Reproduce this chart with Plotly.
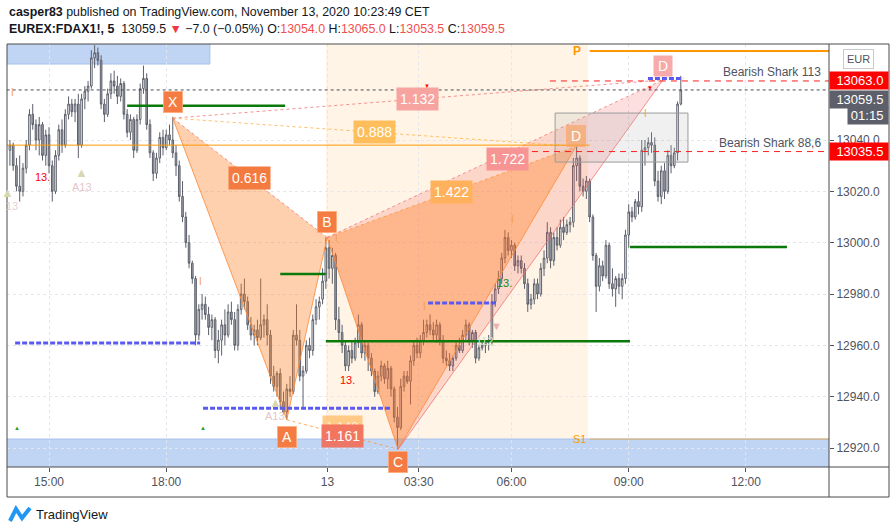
import plotly.graph_objects as go

# ---------------- data ----------------
bar_open = [
    13036, 13038, 13030, 13022, 13020, 13029, 13038, 13050, 13046, 13040,
    13046, 13034, 13042, 13030, 13020, 13034, 13044, 13038, 13050, 13054,
    13051, 13054, 13038, 13056, 13059, 13061, 13072, 13074, 13071, 13054,
    13050, 13058, 13063, 13061, 13057, 13062, 13050, 13043, 13048, 13036,
    13048, 13060, 13064, 13046, 13035, 13027, 13033, 13041, 13037, 13042,
    13040, 13035, 13030, 13018, 13010, 13000, 12992, 12986, 12964, 12974,
    12976, 12972, 12967, 12970, 12958, 12962, 12968, 12964, 12973, 12970,
    12960, 12974, 12980, 12977, 12968, 12964, 12966, 12963, 12968, 12970,
    12964, 12948, 12944, 12949, 12938, 12934, 12943, 12942, 12964, 12962,
    12948, 12950, 12960, 12958, 12970, 12975, 12978, 12985, 12998, 12990,
    12995, 12970, 12965, 12960, 12952, 12958, 12955, 12961, 12968, 12957,
    12960, 12955, 12950, 12942, 12948, 12952, 12947, 12951, 12943, 12932,
    12928, 12944, 12948, 12946, 12954, 12960, 12957, 12962, 12965, 12968,
    12966, 12964, 12968, 12962, 12955, 12954, 12952, 12955, 12960, 12958,
    12964, 12968, 12962, 12965, 12955, 12959, 12960, 12961, 12962, 12977,
    12982, 12986, 12994, 13002, 12997, 12999, 12991, 12993, 12990, 12984,
    12976, 12978, 12984, 12980, 12990, 12994, 13004, 12993, 13002, 12999,
    13006, 13004, 13007, 13008, 13030, 13033, 13022, 13020, 13024, 13010,
    12995, 12983, 12991, 12987, 12999, 12984, 12982, 12986, 12983, 12986,
    13003, 13012, 13010, 13016, 13014, 13036, 13037, 13039, 13038, 13024,
    13018, 13028, 13020, 13034, 13030, 13035, 13054,
]
bar_high = [
    13040, 13039, 13033, 13034, 13031, 13040, 13052, 13054, 13048, 13049,
    13047, 13044, 13045, 13032, 13036, 13046, 13048, 13052, 13057, 13056,
    13056, 13058, 13058, 13061, 13063, 13075, 13077, 13076, 13073, 13056,
    13060, 13066, 13067, 13065, 13064, 13063, 13052, 13050, 13049, 13050,
    13062, 13069, 13066, 13048, 13036, 13035, 13043, 13044, 13044, 13046,
    13049, 13038, 13032, 13024, 13012, 13003, 12993, 12987, 12976, 12980,
    12979, 12975, 12972, 12971, 12966, 12970, 12974, 12976, 12977, 12973,
    12976, 12984, 12986, 12979, 12971, 12968, 12970, 12986, 12972, 12976,
    12966, 12952, 12950, 12951, 12942, 12945, 12948, 12966, 12976, 12966,
    12952, 12962, 12963, 12972, 12978, 12979, 12990, 13002, 13001, 12998,
    12996, 12975, 12968, 12962, 12960, 12962, 12963, 12972, 12969, 12962,
    12961, 12957, 12951, 12950, 12954, 12953, 12954, 12952, 12944, 12936,
    12947, 12950, 12950, 12956, 12962, 12963, 12964, 12970, 12970, 12972,
    12969, 12970, 12969, 12964, 12958, 12957, 12956, 12962, 12963, 12966,
    12970, 12969, 12966, 12966, 12960, 12962, 12962, 12964, 12980, 12984,
    12989, 12996, 13005, 13004, 13001, 13000, 12995, 12995, 12992, 12986,
    12980, 12986, 12986, 12992, 12997, 13008, 13006, 13004, 13006, 13009,
    13010, 13009, 13010, 13033, 13038, 13034, 13025, 13026, 13025, 13011,
    12996, 12994, 12993, 13001, 13000, 12990, 12987, 12988, 12988, 13005,
    13015, 13014, 13017, 13020, 13040, 13040, 13041, 13043, 13041, 13028,
    13030, 13031, 13036, 13038, 13037, 13055, 13065,
]
bar_low = [
    13030, 13028, 13020, 13016, 13018, 13027, 13036, 13044, 13036, 13034,
    13032, 13030, 13027, 13016, 13019, 13032, 13035, 13037, 13048, 13049,
    13047, 13033, 13037, 13052, 13055, 13060, 13068, 13069, 13052, 13047,
    13049, 13056, 13058, 13054, 13055, 13048, 13041, 13040, 13033, 13035,
    13046, 13058, 13044, 13033, 13024, 13025, 13031, 13034, 13036, 13038,
    13033, 13026, 13016, 13008, 12998, 12990, 12984, 12960, 12962, 12970,
    12970, 12964, 12962, 12955, 12953, 12956, 12960, 12963, 12968, 12958,
    12958, 12972, 12974, 12966, 12962, 12960, 12960, 12962, 12963, 12960,
    12945, 12942, 12940, 12935, 12933, 12931, 12940, 12941, 12960, 12946,
    12935, 12949, 12955, 12956, 12968, 12970, 12976, 12982, 12986, 12984,
    12966, 12962, 12957, 12950, 12950, 12953, 12954, 12959, 12955, 12954,
    12950, 12948, 12940, 12941, 12946, 12945, 12943, 12940, 12930, 12919.5,
    12927, 12942, 12945, 12937, 12952, 12955, 12955, 12960, 12963, 12964,
    12962, 12961, 12960, 12953, 12952, 12950, 12950, 12954, 12957, 12957,
    12962, 12960, 12959, 12953, 12954, 12958, 12957, 12958, 12960, 12975,
    12980, 12984, 12992, 12995, 12994, 12989, 12988, 12988, 12982, 12973,
    12974, 12976, 12978, 12979, 12987, 12992, 12990, 12991, 12997, 12998,
    13001, 13003, 13004, 13006, 13024, 13020, 13018, 13017, 13008, 12993,
    12973, 12981, 12985, 12986, 12982, 12979, 12975, 12980, 12978, 12984,
    12998, 13008, 13009, 13011, 13012, 13030, 13034, 13035, 13022, 13016,
    13015, 13017, 13019, 13027, 13029, 13032, 13053.5,
]
bar_close = [
    13038, 13030, 13022, 13020, 13029, 13038, 13050, 13046, 13040, 13046,
    13034, 13042, 13030, 13020, 13034, 13044, 13038, 13050, 13054, 13051,
    13054, 13038, 13056, 13059, 13061, 13072, 13074, 13071, 13054, 13050,
    13058, 13063, 13061, 13057, 13062, 13050, 13043, 13048, 13036, 13048,
    13060, 13064, 13046, 13035, 13027, 13033, 13041, 13037, 13042, 13040,
    13035, 13030, 13018, 13010, 13000, 12992, 12986, 12964, 12974, 12976,
    12972, 12967, 12970, 12958, 12962, 12968, 12964, 12973, 12970, 12960,
    12974, 12980, 12977, 12968, 12964, 12966, 12963, 12968, 12970, 12964,
    12948, 12944, 12949, 12938, 12934, 12943, 12942, 12964, 12962, 12948,
    12950, 12960, 12958, 12970, 12975, 12977, 12985, 12998, 12990, 12995,
    12970, 12965, 12960, 12952, 12958, 12955, 12961, 12968, 12957, 12960,
    12955, 12950, 12942, 12948, 12952, 12947, 12951, 12943, 12932, 12928,
    12944, 12948, 12946, 12954, 12960, 12957, 12962, 12965, 12968, 12966,
    12964, 12968, 12962, 12955, 12954, 12952, 12955, 12960, 12958, 12964,
    12968, 12962, 12965, 12955, 12959, 12960, 12961, 12962, 12977, 12982,
    12986, 12994, 13002, 12997, 12999, 12991, 12993, 12990, 12984, 12976,
    12978, 12984, 12980, 12990, 12994, 13004, 12993, 13002, 12999, 13006,
    13004, 13007, 13008, 13030, 13033, 13022, 13020, 13024, 13010, 12995,
    12983, 12991, 12987, 12999, 12984, 12982, 12986, 12983, 12986, 13003,
    13012, 13010, 13016, 13014, 13036, 13037, 13039, 13038, 13024, 13018,
    13028, 13020, 13034, 13030, 13035, 13054, 13059.5,
]
bar_idx = list(range(len(bar_close)))

tick_pos = [12, 48, 97.5, 125.5, 154, 190, 226]
tick_text = ["15:00", "18:00", "13", "03:30", "06:00", "09:00", "12:00"]
price_ticks = [12920, 12940, 12960, 12980, 13000, 13020, 13040]
x_range = [-0.9, 251.5]
y_range = [12912.6, 13077.4]

# harmonic patterns (X A B C D and the second D)
pat_names = ["X", "A", "B", "C", "D"]
pat_idx = [50, 85, 97.4, 119.2, 173.8]
pat_price = [13048.5, 12931, 13002, 12919.5, 13037.5]
d2_idx = 200.5
d2_price = 13063.4

# level lines
green_start = [36, 83, 97, 190.4]
green_end = [84.5, 97, 190.4, 238.6]
green_level = [13053.3, 12987.8, 12961.6, 12998.3]

blue_start = [1.6, 59.3, 128.4, 195.9]
blue_end = [58.4, 116.7, 149.2, 206.7]
blue_level = [12960.9, 12935.5, 12976.5, 13064]

shark_levels = [13063.0, 13035.5]
shark_start = [165.8, 160.3]
shark_text = ["Bearish Shark 113", "Bearish Shark 88,6"]
last_price = 13059.5
orange_level = 13038
pivot_p = 13074.7
pivot_s1 = 12923.5
band_start, band_end = 97.05, 177.5
box_x = [167.4, 208.2]
box_y = [13031.4, 13050.5]
top_zone = [-5, 61.4, 13069.6, 13100]
bottom_zone = [-5, 260, 12900, 12923.5]

# indicator marks
i_idx = [0.9, 58.4, 100.4, 127.4, 154.2, 195.3]
i_price = [13058.7, 12985, 13001.8, 12975.3, 13009.2, 13050.5]
red13_idx = [9.9, 103.5]
red13_price = [13025.6, 12946.4]
green13_idx = [152]
green13_price = [12984.3]
a13_idx = [22, 81.4]
a13_price = [13021.7, 12932.4]
tri_idx = [22, 81.4, -0.6]
tri_price = [13027.5, 12937.8, 13019.7]
gtri_idx = [2.2, 59.3]
gtri_price = [12927.7, 12927.7]
rtri_idx = [128, 196.5]
rtri_price = [13061.2, 13060.3]


def px_x(px):
    return (px - 7) / 822.0


def px_y(py):
    return (467 - py) / 423.0


FONT = "Liberation Sans"
fig = go.Figure()

fig.add_trace(go.Candlestick(
    x=bar_idx, open=bar_open, high=bar_high, low=bar_low, close=bar_close,
    increasing=dict(line=dict(color="#5d606b", width=1), fillcolor="#ffffff"),
    decreasing=dict(line=dict(color="#5d606b", width=1), fillcolor="#a3a6af"),
    whiskerwidth=0, showlegend=False, hoverinfo="skip"))

X, A, B, C, D = [(pat_idx[k], pat_price[k]) for k in range(5)]
D2 = (d2_idx, d2_price)


def poly(pts, fill, name):
    fig.add_trace(go.Scatter(
        x=[p[0] for p in pts] + [pts[0][0]], y=[p[1] for p in pts] + [pts[0][1]],
        mode="lines", fill="toself", fillcolor=fill, line=dict(width=0),
        hoverinfo="skip", showlegend=False, name=name))


def seg(p, q, color, dash="solid", width=1):
    fig.add_trace(go.Scatter(x=[p[0], q[0]], y=[p[1], q[1]], mode="lines",
                             line=dict(color=color, width=width, dash=dash),
                             hoverinfo="skip", showlegend=False))


poly([B, C, D2], "rgba(242,80,80,0.18)", "pink")
poly([X, A, B], "rgba(255,125,30,0.36)", "xab")
poly([B, C, D], "rgba(255,125,30,0.36)", "bcd")

ORG = "rgba(255,140,60,0.85)"
PNK = "rgba(242,110,110,0.75)"
seg(X, A, ORG)
seg(A, B, ORG)
seg(B, C, ORG)
seg(C, D, ORG)
seg(C, D2, PNK)
seg(X, B, PNK, "dot")
seg(B, D, "rgba(255,150,60,0.8)", "dot")
seg(B, D2, PNK, "dot")
seg(X, D, "rgba(255,175,70,0.8)", "dot")
seg(X, D2, PNK, "dot")
seg(A, C, "rgba(255,150,60,0.8)", "dot")

shapes = []
# background zones
shapes.append(dict(type="rect", xref="x", yref="y", x0=band_start, x1=band_end,
                   y0=12800, y1=13200, fillcolor="#fff4e6", line=dict(width=0), layer="below"))
shapes.append(dict(type="rect", xref="x", yref="y", x0=top_zone[0], x1=top_zone[1],
                   y0=top_zone[2], y1=top_zone[3], fillcolor="#c0d4f3",
                   line=dict(color="#a7c1ec", width=1), layer="below"))
shapes.append(dict(type="rect", xref="x", yref="y", x0=bottom_zone[0], x1=bottom_zone[1],
                   y0=bottom_zone[2], y1=bottom_zone[3], fillcolor="#c0d4f3",
                   line=dict(color="#a7c1ec", width=1), layer="below"))
shapes.append(dict(type="rect", xref="x", yref="y", x0=box_x[0], x1=box_x[1],
                   y0=box_y[0], y1=box_y[1], fillcolor="rgba(170,170,170,0.18)",
                   line=dict(color="#9b9b9b", width=1), layer="above"))
# horizontal lines
shapes.append(dict(type="line", xref="x", yref="y", x0=-1, x1=178, y0=orange_level,
                   y1=orange_level, line=dict(color="#ff9800", width=1), layer="above"))
shapes.append(dict(type="line", xref="x", yref="y", x0=178, x1=252, y0=pivot_p,
                   y1=pivot_p, line=dict(color="#ff9800", width=2), layer="above"))
shapes.append(dict(type="line", xref="x", yref="y", x0=178, x1=252, y0=pivot_s1,
                   y1=pivot_s1, line=dict(color="rgba(255,152,0,0.6)", width=1), layer="above"))
shapes.append(dict(type="line", xref="x", yref="y", x0=-1, x1=252, y0=last_price,
                   y1=last_price, line=dict(color="#4a4d57", width=1, dash="dot"), layer="above"))
for s0, lv in zip(shark_start, shark_levels):
    shapes.append(dict(type="line", xref="x", yref="y", x0=s0, x1=252, y0=lv, y1=lv,
                       line=dict(color="#ff2020", width=1, dash="6px,5px"), layer="above"))
for s0, s1, lv in zip(green_start, green_end, green_level):
    shapes.append(dict(type="line", xref="x", yref="y", x0=s0, x1=s1, y0=lv, y1=lv,
                       line=dict(color="#0b7a0b", width=2.5), layer="above"))
for s0, s1, lv in zip(blue_start, blue_end, blue_level):
    shapes.append(dict(type="line", xref="x", yref="y", x0=s0, x1=s1, y0=lv, y1=lv,
                       line=dict(color="#5a5af0", width=3, dash="5px,2px"), layer="above"))
# frame
FR = "#4a4a4a"
shapes.append(dict(type="rect", xref="paper", yref="paper", x0=px_x(7), x1=px_x(889),
                   y0=px_y(497), y1=px_y(44), line=dict(color=FR, width=1), layer="above"))
shapes.append(dict(type="line", xref="paper", yref="paper", x0=1, x1=1,
                   y0=px_y(497), y1=px_y(44), line=dict(color=FR, width=1), layer="above"))
shapes.append(dict(type="line", xref="paper", yref="paper", x0=px_x(7), x1=px_x(889),
                   y0=0, y1=0, line=dict(color=FR, width=1), layer="above"))
# TradingView logo
shapes.append(dict(type="path", xref="paper", yref="paper",
                   path="M {} {} L {} {} L {} {} L {} {}".format(
                       px_x(10), px_y(521), px_x(16), px_y(509),
                       px_x(22), px_y(518), px_x(30), px_y(508)),
                   line=dict(color="#2196f3", width=4), layer="above"))

ann = []
# header
ann.append(dict(xref="paper", yref="paper", x=px_x(7), y=px_y(12), xanchor="left",
                yanchor="middle", showarrow=False,
                text="<b>casper83</b> published on TradingView.com, November 13, 2020 10:23:49 CET",
                font=dict(family=FONT, size=12.4, color="#131722")))
RED = "#f05050"
hdr2 = ("<b>EUREX:FDAX1!, 5</b>  13059.5 <span style='color:#f23645'>▼</span> "
        "−7.0 (−0.05" + "%" + ") O:<span style='color:" + RED + "'>13054.0</span> "
        "H:<span style='color:" + RED + "'>13065.0</span> L:<span style='color:" + RED +
        "'>13053.5</span> C:<span style='color:" + RED + "'>13059.5</span>")
ann.append(dict(xref="paper", yref="paper", x=px_x(7), y=px_y(29), xanchor="left",
                yanchor="middle", showarrow=False, text=hdr2,
                font=dict(family=FONT, size=12.4, color="#131722")))
ann.append(dict(xref="paper", yref="paper", x=px_x(34), y=px_y(514), xanchor="left",
                yanchor="middle", showarrow=False, text="TradingView",
                font=dict(family=FONT, size=13, color="#131722")))
ann.append(dict(xref="paper", yref="paper", x=px_x(858), y=px_y(59), xanchor="center",
                yanchor="middle", showarrow=False, text="EUR", bordercolor="#c8cad0",
                borderwidth=1, borderpad=3, bgcolor="#ffffff",
                font=dict(family=FONT, size=11, color="#50535e")))


# right axis tags
def tag(price, text, bg, yshift=0, width=56):
    ann.append(dict(xref="paper", yref="y", x=px_x(889), y=price, xanchor="right",
                    yanchor="middle", yshift=yshift, showarrow=False, text=text,
                    bgcolor=bg, width=width, height=15, borderpad=1, align="right",
                    font=dict(family=FONT, size=13, color="#ffffff")))


tag(shark_levels[1], "13035.5 ", "#ff0000")
tag(last_price, "13059.5 ", "#5d606b", yshift=-10)
tag(last_price, "01:15 ", "#5d606b", yshift=-26, width=38)
tag(shark_levels[0], "13063.0 ", "#ff0000")

for lv, txt in zip(shark_levels, shark_text):
    ann.append(dict(xref="paper", yref="y", x=px_x(823), y=lv, xanchor="right",
                    yanchor="middle", yshift=9, showarrow=False, text=txt,
                    font=dict(family=FONT, size=12, color="#50535e")))

ann.append(dict(x=174, y=pivot_p, text="<b>P</b>", showarrow=False,
                font=dict(family=FONT, size=12, color="#ff9800")))
ann.append(dict(x=175, y=pivot_s1, text="S1", showarrow=False,
                font=dict(family=FONT, size=11, color="#ff9800")))

# pattern point labels
point_shift = [16, -17, 16, -13, 10]
point_bg = ["#f47b42", "#f47b42", "#f47b42", "#f47b42", "rgba(247,160,90,0.6)"]
for k in range(5):
    ann.append(dict(x=pat_idx[k], y=pat_price[k], yshift=point_shift[k], text=pat_names[k],
                    showarrow=False, bgcolor=point_bg[k], width=16, height=18, borderpad=1,
                    bordercolor="rgba(255,170,120,0.8)", borderwidth=1,
                    font=dict(family=FONT, size=14, color="#ffffff")))
ann.append(dict(x=d2_idx, y=d2_price, yshift=14, text="D", showarrow=False,
                bgcolor="#f8aaaa", width=16, height=18, borderpad=1,
                font=dict(family=FONT, size=14, color="#ffffff")))

# ratio labels at midpoints
ratios = [
    (X, B, "0.616", "#f47b3f", 0),
    (X, D, "0.888", "#ffbe5c", 0),
    (X, D2, "1.132", "#f7a3a0", 0),
    (B, D, "1.422", "#ffb15c", 0),
    (B, D2, "1.722", "#f79494", 12),
]
ann.append(dict(x=(A[0] + C[0]) / 2, y=(A[1] + C[1]) / 2, yshift=8, text="1.148",
                showarrow=False, bgcolor="rgba(255,190,110,0.8)", borderpad=3,
                font=dict(family=FONT, size=13, color="rgba(255,255,255,0.7)")))
ann.append(dict(x=(A[0] + C[0]) / 2, y=(A[1] + C[1]) / 2, yshift=-1, text="1.161",
                showarrow=False, bgcolor="rgba(242,110,90,0.92)", borderpad=3,
                font=dict(family=FONT, size=14, color="#ffffff")))
for p, q, txt, bg, xs in ratios:
    ann.append(dict(x=(p[0] + q[0]) / 2, y=(p[1] + q[1]) / 2, xshift=xs, text=txt,
                    showarrow=False, bgcolor=bg, borderpad=3,
                    font=dict(family=FONT, size=14, color="#ffffff")))


# small indicator marks
def mark(xs, ys, text, color, size):
    for x_, y_ in zip(xs, ys):
        ann.append(dict(x=x_, y=y_, text=text, showarrow=False,
                        font=dict(family=FONT, size=size, color=color)))


mark(i_idx, i_price, "I", "#f5a050", 10)
mark(red13_idx, red13_price, "13.", "#ff0000", 11)
mark(green13_idx, green13_price, "13.", "#118811", 11)
mark(a13_idx, a13_price, "A13", "#e6c6ca", 11)
mark([0.6], [13014.3], "13", "#ead0d2", 11)
mark(tri_idx, tri_price, "▲", "#d8d8b0", 13)
mark(gtri_idx, gtri_price, "▲", "#2a9a2a", 6)
mark(rtri_idx, rtri_price, "▼", "#ff0000", 6)
mark([149.5], [12967.5], "▼", "#eeb0b0", 11)
mark([146], [12961.6], "112", "#d7dec8", 11)

fig.update_layout(
    width=896, height=532,
    margin=dict(l=7, r=67, t=44, b=65),
    paper_bgcolor="#ffffff", plot_bgcolor="#ffffff",
    showlegend=False,
    shapes=shapes, annotations=ann,
    font=dict(family=FONT, size=12, color="#50535e"),
    xaxis=dict(range=x_range, rangeslider=dict(visible=False), tickvals=tick_pos,
               ticktext=tick_text, ticks="outside", ticklen=4, tickcolor="#50535e",
               showgrid=True, gridcolor="#e3e6ec", griddash="dot", zeroline=False,
               showline=False, tickfont=dict(family=FONT, size=12, color="#50535e")),
    yaxis=dict(range=y_range, side="right", tickvals=price_ticks,
               ticktext=["%.1f" % v for v in price_ticks], ticks="outside", ticklen=4,
               tickcolor="#50535e", showgrid=True, gridcolor="#e3e6ec", griddash="dot",
               zeroline=False, showline=False,
               tickfont=dict(family=FONT, size=12, color="#50535e")),
)

fig.write_html("out.html", config={"displayModeBar": False},
               post_script="document.body.style.margin='0px';document.body.style.overflow='hidden';")
